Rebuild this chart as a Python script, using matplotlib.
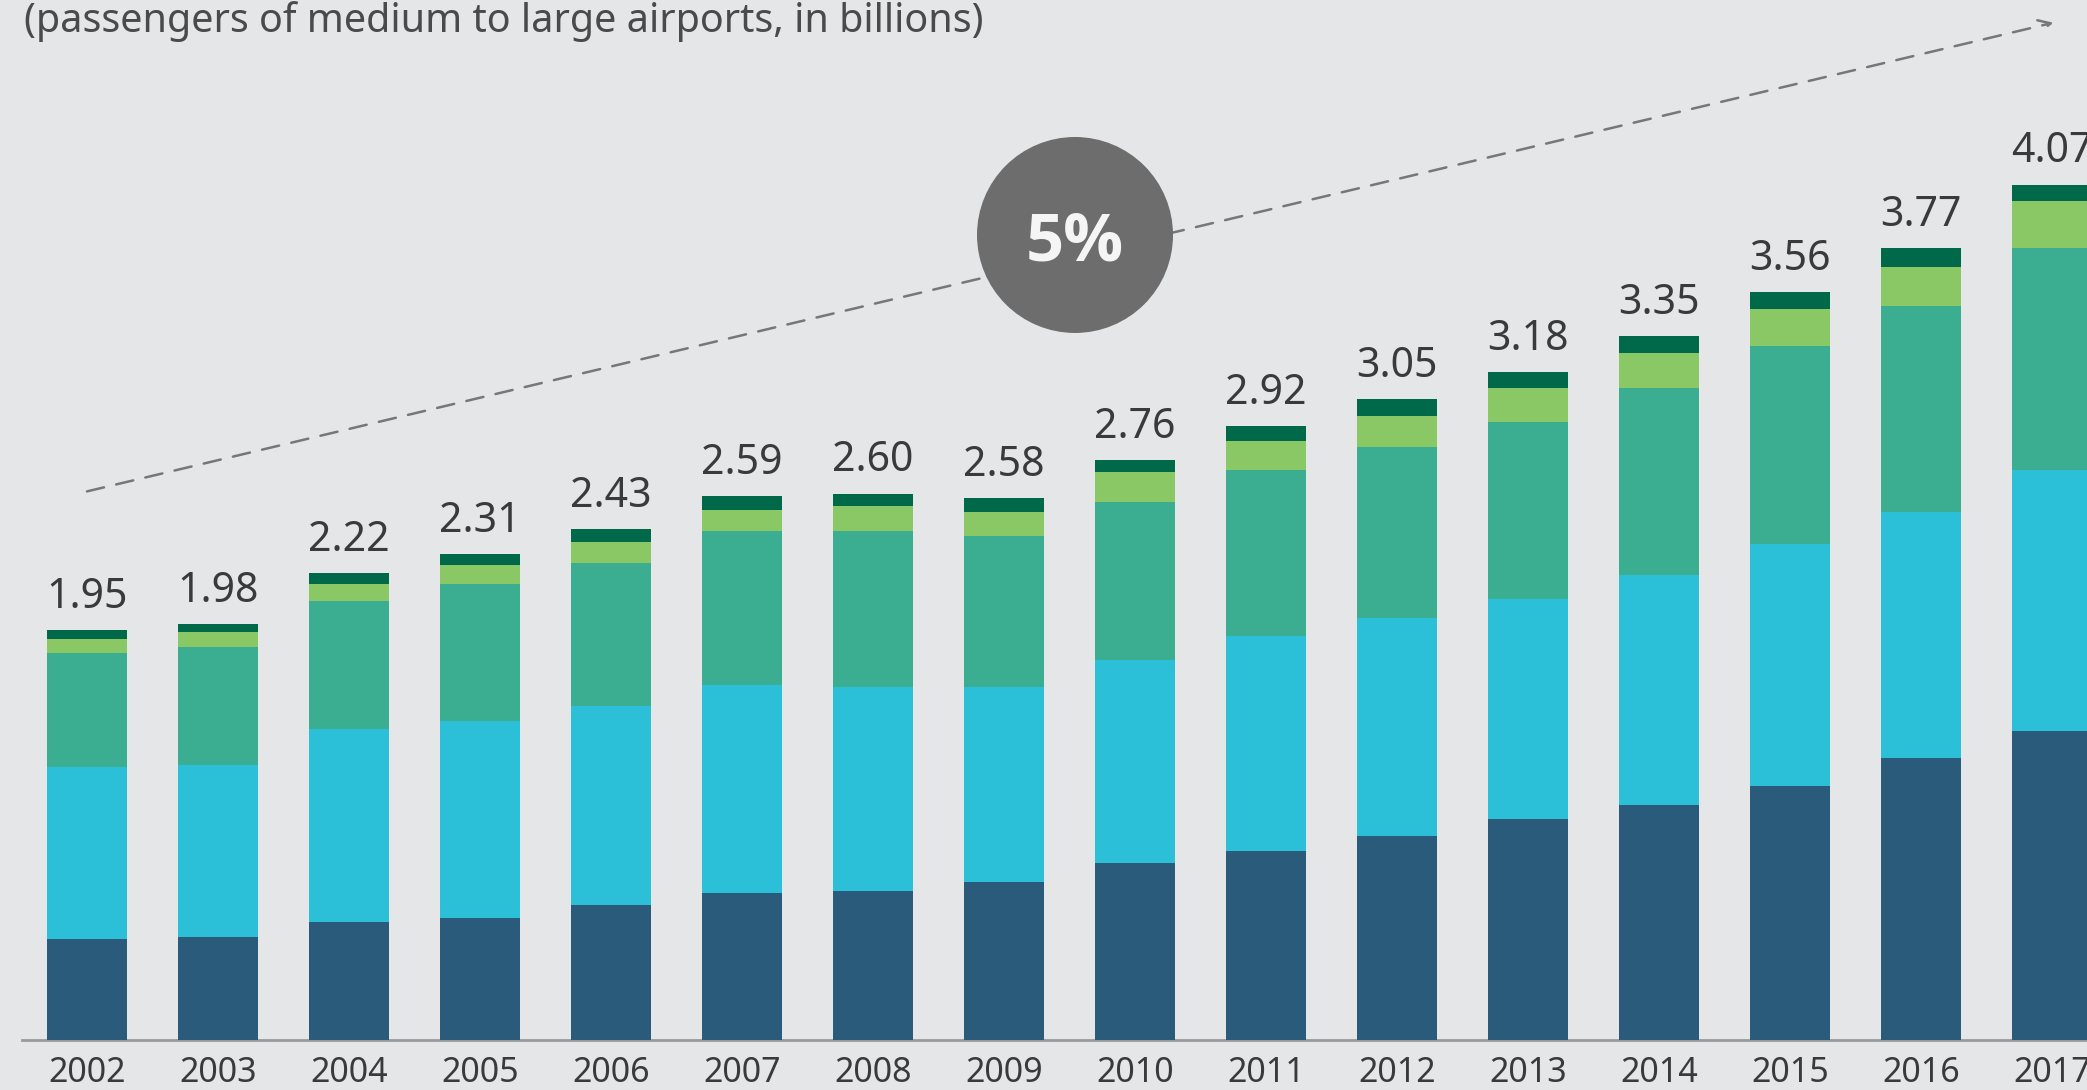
import numpy as np
import matplotlib.pyplot as plt
from matplotlib.patches import Ellipse

anios = ['2002', '2003', '2004', '2005', '2006', '2007', '2008', '2009',
         '2010', '2011', '2012', '2013', '2014', '2015', '2016', '2017']
totales = ['1.95', '1.98', '2.22', '2.31', '2.43', '2.59', '2.60', '2.58',
           '2.76', '2.92', '3.05', '3.18', '3.35', '3.56', '3.77', '4.07']

# segmentos de abajo hacia arriba (miles de millones)
seg_1 = [0.48, 0.49, 0.56, 0.58, 0.64, 0.70, 0.71, 0.75, 0.84, 0.90, 0.97, 1.05, 1.12, 1.21, 1.34, 1.47]
seg_2 = [0.82, 0.82, 0.92, 0.94, 0.95, 0.99, 0.97, 0.93, 0.97, 1.02, 1.04, 1.05, 1.09, 1.15, 1.17, 1.24]
seg_3 = [0.54, 0.56, 0.61, 0.65, 0.68, 0.73, 0.74, 0.72, 0.75, 0.79, 0.81, 0.84, 0.89, 0.94, 0.98, 1.06]
seg_4 = [0.07, 0.07, 0.08, 0.09, 0.10, 0.10, 0.12, 0.11, 0.14, 0.14, 0.15, 0.16, 0.17, 0.18, 0.19, 0.22]
seg_5 = [0.04, 0.04, 0.05, 0.05, 0.06, 0.07, 0.06, 0.07, 0.06, 0.07, 0.08, 0.08, 0.08, 0.08, 0.09, 0.08]

crecimiento = '5%'

colores = ['#2a5b7b', '#2bbfd8', '#3bad91', '#8ac765', '#00694a']
fondo = '#e5e6e8'
texto = '#3a3a3a'

plt.rcParams['font.family'] = ['Noto Sans', 'DejaVu Sans']

fig = plt.figure(figsize=(20.87, 10.9), dpi=100, facecolor=fondo)
ax = fig.add_axes([0, 0, 1, 1])
ax.set_facecolor(fondo)

x = np.arange(len(anios))
abajo = np.zeros(len(anios))
for valores, color in zip([seg_1, seg_2, seg_3, seg_4, seg_5], colores):
    ax.bar(x, valores, width=0.61, bottom=abajo, color=color, zorder=3)
    abajo = abajo + np.array(valores)

for xi, tope, etiqueta in zip(x, abajo, totales):
    ax.text(xi, tope + 0.105, etiqueta, ha='center', va='baseline',
            fontsize=29.5, color=texto, zorder=4)

for xi, anio in zip(x, anios):
    ax.text(xi, -0.158, anio, ha='center', va='center', fontsize=24.5, color=texto)

# eje base
ax.axhline(0, xmin=22 / 2087, xmax=1, color='#9a9a9a', lw=2, zorder=2)

# linea de tendencia con flecha
ax.annotate('', xy=(15.01, 4.84), xytext=(0, 2.61),
            arrowprops=dict(arrowstyle='->', color='#777777', lw=1.8,
                            linestyle=(0, (7, 5)), mutation_scale=22,
                            shrinkA=0, shrinkB=0),
            zorder=1)

# circulo con el crecimiento
ax.add_patch(Ellipse((7.542, 3.83), width=2 * 98 / 131, height=2 * 98 / 210.2,
                     facecolor='#6d6d6d', edgecolor='none', zorder=5))
ax.text(7.542, 3.79, crecimiento, ha='center', va='center', fontsize=48,
        fontweight='bold', family=['Open Sans', 'DejaVu Sans'],
        color='#f5f5f5', zorder=6)

fig.text(24 / 2087, 1 - 22 / 1090, '(passengers of medium to large airports, in billions)',
         ha='left', va='center', fontsize=28.5, color='#4a4a4a')

ax.set_xlim(-0.664, 15.267)
ax.set_ylim(-0.238, 4.948)
ax.axis('off')

fig.savefig('out.png', dpi=100, facecolor=fondo)
